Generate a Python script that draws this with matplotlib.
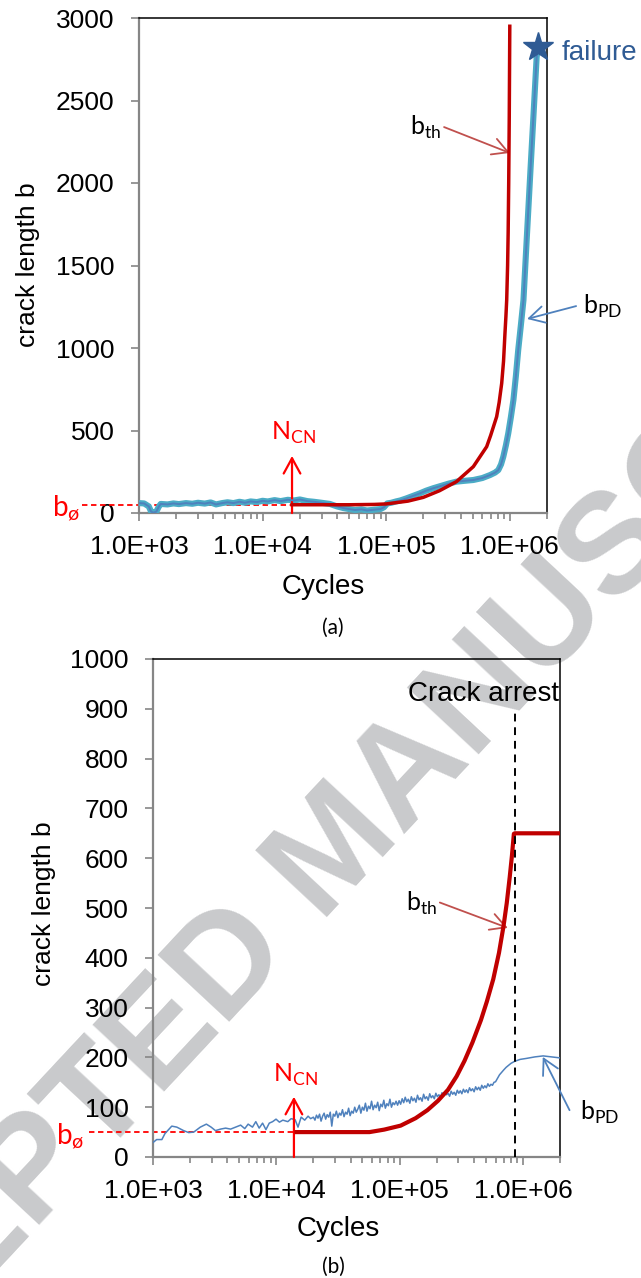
import numpy as np
import matplotlib
matplotlib.use('Agg')
from matplotlib import pyplot as plt
from matplotlib.ticker import LogLocator, NullFormatter, FuncFormatter, MultipleLocator

plt.rcParams['font.family'] = ['Liberation Sans', 'DejaVu Sans']

# ---------------- (a) test run up to failure ----------------
th_a_cycles = [1.73e4, 3e4, 5e4, 8e4, 1.0e5, 1.5e5, 2.0e5, 2.7e5, 3.7e5, 5.07e5, 6.5e5,
               7.0e5, 7.83e5, 8.2e5, 8.6e5, 8.9e5, 9.14e5, 9.3e5, 9.44e5, 9.6e5, 9.7e5,
               9.8e5, 9.9e5, 1.0e6]
th_a_len = [50, 50, 50, 52, 55, 72, 95, 135, 190, 281, 402, 470, 584, 670, 786, 920, 1089,
            1190, 1291, 1500, 1700, 2000, 2400, 2950]

pd_a_cycles = [1.0e3, 1.1e3, 1.2e3, 1.25e3, 1.3e3, 1.38e3, 1.45e3, 1.5e3, 1.7e3, 1.9e3, 2.1e3,
               2.4e3, 2.7e3, 3.0e3, 3.4e3, 3.8e3, 4.2e3, 4.7e3, 5.2e3, 5.8e3, 6.5e3, 7.2e3,
               8e3, 9e3, 1.0e4, 1.1e4, 1.25e4, 1.4e4, 1.6e4, 1.8e4, 2.0e4, 2.3e4, 2.6e4,
               3.0e4, 3.5e4, 4.0e4, 4.5e4, 5.0e4, 5.6e4, 6.3e4, 7.0e4, 8.0e4, 9.0e4, 9.6e4,
               1.02e5, 1.1e5, 1.2e5, 1.3e5, 1.45e5, 1.6e5, 1.87e5, 2.1e5, 2.4e5, 2.8e5,
               3.2e5, 3.7e5, 4.3e5, 5.07e5, 6.0e5, 6.92e5, 7.6e5, 8.07e5, 8.5e5, 8.86e5,
               9.3e5, 9.72e5, 1.02e6, 1.07e6, 1.12e6, 1.17e6, 1.23e6, 1.29e6, 1.38e6,
               1.475e6, 1.56e6, 1.65e6, 1.7e6]
pd_a_len = [60, 58, 40, 10, 2, 8, 40, 55, 52, 58, 54, 60, 56, 62, 57, 64, 52, 60, 65, 60, 68,
            62, 70, 66, 74, 70, 78, 72, 80, 76, 82, 72, 68, 62, 55, 40, 30, 24, 18, 22, 15,
            20, 24, 35, 58, 62, 70, 76, 88, 100, 119, 135, 150, 165, 178, 190, 195, 200,
            212, 230, 245, 260, 295, 341, 410, 483, 580, 685, 830, 988, 1140, 1290, 1700,
            2100, 2430, 2765, 2826]
fail_cycle = 1.7e6
fail_len = 2826
ncn_a = 1.73e4
b0_a = 50

# ---------------- (b) test run with crack arrest ----------------
th_b_cycles = [1.46e4, 3e4, 5.7e4, 7.5e4, 1.02e5, 1.35e5, 1.68e5, 2.05e5, 2.47e5, 2.9e5,
               3.36e5, 3.9e5, 4.57e5, 5.1e5, 5.75e5, 6.4e5, 6.97e5, 7.4e5, 7.82e5, 8.15e5,
               8.45e5, 8.6e5, 2.0e6]
th_b_len = [50, 50, 50, 55, 63, 78, 94, 113, 135, 162, 193, 230, 275, 312, 357, 410, 464,
            510, 562, 605, 649, 650, 650]

pd_b_early_cycles = [1.0e3, 1.07e3, 1.18e3, 1.25e3, 1.42e3, 1.56e3, 1.77e3, 1.95e3, 2.14e3,
                     2.42e3, 2.71e3, 2.96e3, 3.21e3, 3.53e3, 3.88e3, 4.26e3, 4.68e3, 5.14e3,
                     5.55e3, 5.91e3, 6.41e3, 6.82e3, 7.26e3, 7.74e3, 8.24e3, 8.77e3, 9.34e3,
                     9.95e3, 1.06e4, 1.13e4, 1.24e4, 1.32e4, 1.42e4, 1.5e4, 1.59e4, 1.7e4,
                     1.81e4, 1.9e4]
pd_b_early_len = [29, 35, 35, 47, 62, 60, 53, 49, 50, 60, 66, 60, 53, 56, 58, 56, 60, 64, 57,
                  66, 60, 71, 58, 68, 55, 68, 71, 76, 70, 74, 71, 77, 75, 60, 80, 74, 82, 77]
# noisy stretch, 2e4 .. 6e5 cycles
pd_b_noisy_len = [80, 74, 84, 78, 86, 72, 82, 88, 76, 85, 80, 90, 62, 86, 82, 92, 79, 88, 84,
                  95, 81, 90, 86, 98, 83, 92, 88, 100, 90,
                  96, 104, 88, 100, 94, 108, 92, 102, 97, 112, 95, 104, 99, 110, 93, 106, 101,
                  114, 98, 107, 103, 116, 100, 109, 105, 112, 104,
                  113, 106, 117, 109, 120, 111, 116, 108, 121, 113, 118, 110, 124, 115, 119,
                  112, 126, 117, 121, 114, 127, 119, 123, 117, 128, 121,
                  125, 120, 129, 123, 131, 125, 128, 122, 132, 126, 130, 124, 134, 128, 133,
                  127, 136, 130, 135, 129, 139, 133, 137, 131, 141, 135, 140, 134, 144, 138,
                  143, 139, 147, 142, 146, 144, 150, 151]
pd_b_tail_cycles = [6.46e5, 7.0e5, 7.31e5, 8.0e5, 8.56e5, 9.5e5, 1.07e6, 1.25e6, 1.46e6,
                    1.7e6, 2.0e6]
pd_b_tail_len = [165, 175, 180, 188, 192, 196, 198, 201, 203, 201, 199]
ncn_b = 1.39e4
b0_b = 50
arrest_cycle = 8.65e5

RED_TH = '#c00000'
RED = '#ff0000'
BLUE = '#4f81bd'
CYAN = '#4bacc6'
STAR = '#2f5b94'
GRAY = '#868686'
ARROW_TH = '#c0504d'
W, H = 641, 1278


def fpos(x, y):
    # pixel position -> figure fraction
    return x / W, 1 - y / H


def style_axes(ax, ymax, ystep):
    ax.set_xscale('log')
    ax.set_xlim(1e3, 2e6)
    ax.set_ylim(0, ymax)
    ax.yaxis.set_major_locator(MultipleLocator(ystep))
    ax.xaxis.set_major_locator(LogLocator(base=10, numticks=10))
    ax.xaxis.set_minor_locator(LogLocator(base=10, subs=np.arange(2, 10), numticks=20))
    ax.xaxis.set_major_formatter(FuncFormatter(lambda v, p: f'{v:.1E}'))
    ax.xaxis.set_minor_formatter(NullFormatter())
    ax.set_facecolor('none')
    for s in ['left', 'bottom']:
        ax.spines[s].set_color(GRAY)
        ax.spines[s].set_linewidth(1.6)
    for s in ['top', 'right']:
        ax.spines[s].set_color('black')
        ax.spines[s].set_linewidth(1.1)
    ax.tick_params(axis='both', which='both', direction='out', color=GRAY, width=1.2,
                   top=False, right=False)
    ax.tick_params(axis='x', which='major', length=6, pad=10, labelsize=19)
    ax.tick_params(axis='x', which='minor', length=4)
    ax.tick_params(axis='y', length=6, pad=11.5, labelsize=19)


def arrow(ax, xy, xytext, color, lw=1.3):
    ax.annotate('', xy=xy, xytext=xytext, annotation_clip=False,
                arrowprops=dict(arrowstyle='->,head_length=0.55,head_width=0.3',
                                mutation_scale=20, color=color, lw=lw,
                                shrinkA=0, shrinkB=0))


fig = plt.figure(figsize=(6.41, 12.78), dpi=100)

# watermark behind everything
fig.text(*fpos(337, 852), 'ACCEPTED MANUSCRIPT', rotation=47, rotation_mode='anchor',
         ha='center', va='center', fontsize=103, fontweight='bold', color='#c9cacc',
         zorder=-1)

# ---------------- panel (a) ----------------
ax1 = fig.add_axes([139 / W, 1 - 513 / H, 408 / W, 495 / H])
style_axes(ax1, 3000, 500)
ax1.plot([346, ncn_a], [b0_a, b0_a], color=RED, lw=1.3, ls=(0, (3, 2)), clip_on=False,
         zorder=2)
ax1.plot(pd_a_cycles, pd_a_len, color=CYAN, lw=4.4, solid_joinstyle='round', zorder=3)
ax1.plot(pd_a_cycles, pd_a_len, color=BLUE, lw=1.4, zorder=4)
ax1.plot(th_a_cycles, th_a_len, color=RED_TH, lw=2.5, zorder=5)
ax1.plot([fail_cycle], [fail_len], marker='*', ms=22, color=STAR, zorder=6, clip_on=False)
arrow(ax1, (ncn_a, 346), (ncn_a, 0), RED, lw=1.6)
ax1.text(ncn_a * 1.03, 485, r'N$_{\mathregular{CN}}$', color=RED, fontsize=18,
         family='Lato', ha='center', va='center')
arrow(ax1, (1.0e6, 2182), (2.94e5, 2339), ARROW_TH)
ax1.text(2.8e5, 2339, r'b$_{\mathregular{th}}$', fontsize=18, family='Lato',
         ha='right', va='center')
arrow(ax1, (1.38e6, 1176), (3.44e6, 1254), BLUE)
ax1.text(3.9e6, 1250, r'b$_{\mathregular{PD}}$', fontsize=18, family='Lato',
         ha='left', va='center')
ax1.text(2.64e6, 2790, 'failure', color=STAR, fontsize=20, ha='left', va='center')

fig.text(*fpos(28, 265), 'crack length b', rotation=90, fontsize=19, ha='center', va='center')
fig.text(*fpos(323, 587), 'Cycles', fontsize=20, ha='center', va='center')
fig.text(*fpos(333, 628), '(a)', fontsize=15, family='Lato', ha='center', va='center')
fig.text(*fpos(80, 517), r'b$_{\mathregular{ø}}$', color=RED, fontsize=20, family='Lato',
         ha='right', va='baseline')

# ---------------- panel (b) ----------------
ax2 = fig.add_axes([153 / W, 1 - 1157 / H, 407 / W, 498 / H])
style_axes(ax2, 1000, 100)
pd_b_cycles = np.concatenate([pd_b_early_cycles,
                              np.geomspace(2.0e4, 6.0e5, len(pd_b_noisy_len)),
                              pd_b_tail_cycles])
pd_b_len = np.concatenate([pd_b_early_len, pd_b_noisy_len, pd_b_tail_len])
ax2.plot([305, ncn_b], [b0_b, b0_b], color=RED, lw=1.3, ls=(0, (3, 2)), clip_on=False,
         zorder=2)
ax2.plot(pd_b_cycles, pd_b_len, color=BLUE, lw=1.1, zorder=3)
ax2.plot(th_b_cycles, th_b_len, color=RED_TH, lw=3.0, zorder=4)
ax2.plot([arrest_cycle, arrest_cycle], [0, 891], color='black', lw=1.4, ls=(0, (4, 3)),
         zorder=5)
ax2.text(2.05e6 / 1.04, 930, 'Crack arrest', fontsize=20, ha='right', va='center')
arrow(ax2, (ncn_b, 121), (ncn_b, 0), RED, lw=1.6)
ax2.text(ncn_b * 1.03, 164, r'N$_{\mathregular{CN}}$', color=RED, fontsize=18,
         family='Lato', ha='center', va='center')
arrow(ax2, (7.54e5, 460), (2.12e5, 511), ARROW_TH)
ax2.text(2.0e5, 509, r'b$_{\mathregular{th}}$', fontsize=18, family='Lato',
         ha='right', va='center')
arrow(ax2, (1.45e6, 201), (2.39e6, 94), BLUE)
ax2.text(2.9e6, 90, r'b$_{\mathregular{PD}}$', fontsize=18, family='Lato',
         ha='left', va='center')

fig.text(*fpos(44, 904), 'crack length b', rotation=90, fontsize=19, ha='center', va='center')
fig.text(*fpos(338, 1229), 'Cycles', fontsize=20, ha='center', va='center')
fig.text(*fpos(333, 1267), '(b)', fontsize=15, family='Lato', ha='center', va='center')
fig.text(*fpos(84, 1145), r'b$_{\mathregular{ø}}$', color=RED, fontsize=20, family='Lato',
         ha='right', va='baseline')

fig.savefig('out.png', dpi=100)
